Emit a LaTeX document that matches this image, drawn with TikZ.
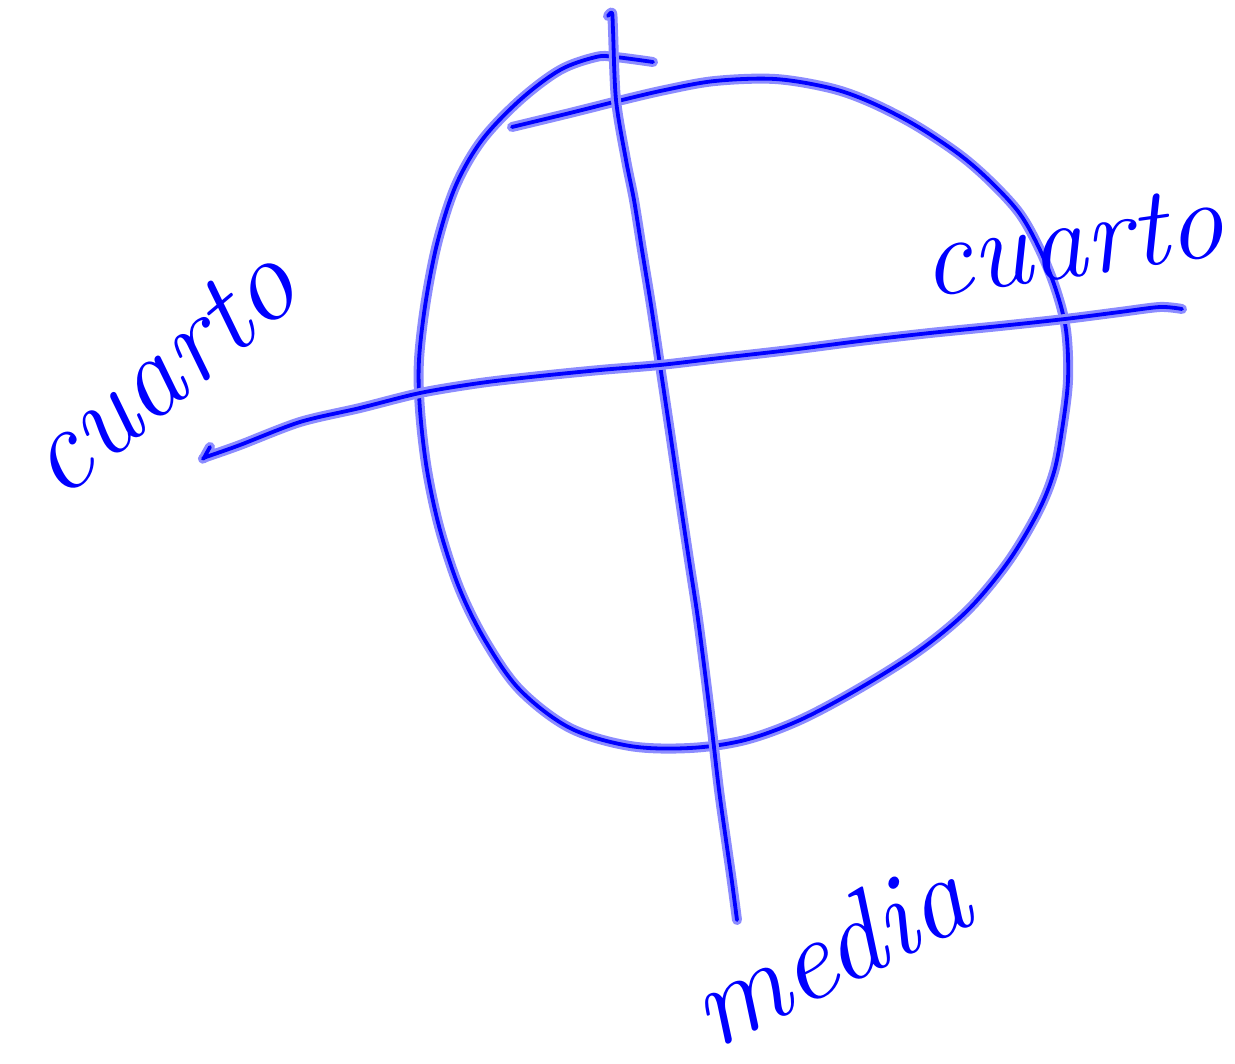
\documentclass[tikz,border=0pt]{standalone}
\usepackage{fontspec}
\begin{document}
\begin{tikzpicture}[x=1pt,y=-1pt,
  ink/.style={draw=blue, line width=3.8pt, line cap=round, line join=round,
    preaction={draw=blue!45, line width=10pt, line cap=round, line join=round}},
  hand/.style={text=blue, inner sep=0pt, font=\fontsize{112}{112}\selectfont\itshape}]
\useasboundingbox (0,0) rectangle (1235,1064);
% circle-like loop
\draw[ink] plot[smooth, tension=0.55] coordinates {
 (653,62) (615,57) (596,57) (560,70) (520,100) (482,140) (456,185) (438,240)
 (426,300) (419,360) (420,410) (427,470) (440,530) (460,590) (486,642)
 (520,690) (570,728) (630,746) (690,748) (745,740) (800,720) (860,688)
 (920,650) (968,610) (1008,562) (1038,512) (1054,472) (1062,430) (1068,380)
 (1066,330) (1056,290) (1040,250) (1020,214) (992,183) (960,155) (915,125)
 (870,102) (830,88) (775,79) (715,81) (665,90) (618,101) (570,113) (512,127)};
% vertical axis
\draw[ink] plot[smooth, tension=0.5] coordinates {
 (608,16) (612,13) (613,30) (616,100) (626,160) (634,200) (642,250) (651,305)
 (660,365) (670,432) (680,500) (689,560) (697,612) (704,665) (712,730)
 (719,790) (726,840) (732,882) (737,920)};
% horizontal axis
\draw[ink] plot[smooth, tension=0.5] coordinates {
 (210,447) (204,458) (206,457) (240,445) (300,422) (360,408) (420,393)
 (480,383) (540,376) (600,370) (660,365) (720,358) (790,350) (860,341)
 (930,333) (1000,326) (1065,319) (1120,312) (1160,307) (1182,309)};
% labels
\node[hand, rotate=40, font=\fontsize{118}{118}\selectfont\itshape] (q1) at (160,372) {cuarto};
\node[hand, rotate=8] (q2) at (1072,242) {cuarto};
\node[hand, rotate=26, font=\fontsize{118}{118}\selectfont\itshape] (m) at (828,950) {media};
\end{tikzpicture}
\end{document}
